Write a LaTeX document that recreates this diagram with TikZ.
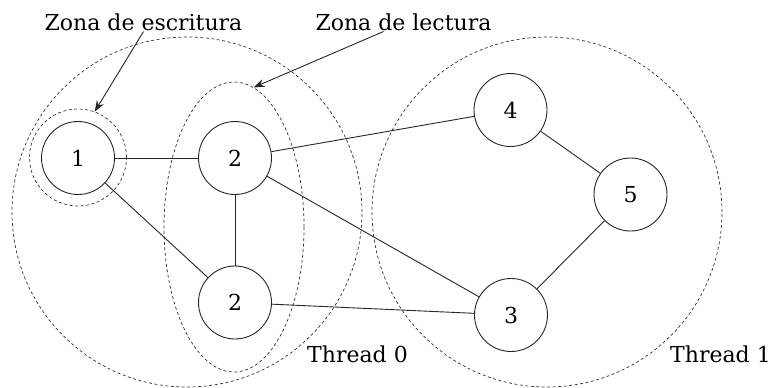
\documentclass[tikz,border=0pt]{standalone}
\usepackage{fontspec}
\setmainfont{DejaVu Serif}
\usetikzlibrary{arrows.meta,shapes.geometric}
\begin{document}
\begin{tikzpicture}[x=1pt,y=-1pt,
  vertex/.style={circle,draw=black!85,line width=0.9pt,minimum size=73pt,inner sep=0pt},
  zone/.style={draw=black!80,dash pattern=on 3pt off 2.5pt,line width=0.7pt,inner sep=0pt},
  caption/.style={inner sep=1pt},
  link/.style={draw=black!85,line width=0.9pt},
  pointer/.style={draw=black!85,line width=0.9pt,-{Stealth[length=11pt,width=8pt]}},
  font=\fontsize{22}{26}\selectfont]
\useasboundingbox (0,0) rectangle (771,388);

% thread partitions
\node[zone,circle,minimum size=350pt] (t0) at (187,212) {};
\node[zone,circle,minimum size=350pt] (t1) at (547,212) {};

% read and write zones
\node[zone,ellipse,minimum width=140pt,minimum height=290pt] (rz) at (234,227) {};
\node[zone,circle,minimum size=97pt] (wz) at (78,157.5) {};

% vertices
\node[vertex] (n1)  at (78,158)     {1};
\node[vertex] (n2a) at (235,158)    {2};
\node[vertex] (n2b) at (235,302.5)  {2};
\node[vertex] (n3)  at (511,315)    {3};
\node[vertex] (n4)  at (510.5,110)  {4};
\node[vertex] (n5)  at (630.5,194.5){5};

% edges
\draw[link] (n1) -- (n2a);
\draw[link] (n1) -- (n2b);
\draw[link] (n2a) -- (n2b);
\draw[link] (n2a) -- (n4);
\draw[link] (n2a) -- (n3);
\draw[link] (n2b) -- (n3);
\draw[link] (n4) -- (n5);
\draw[link] (n5) -- (n3);

% captions
\node[caption,anchor=base] (we) at (143.5,30) {Zona de escritura};
\node[caption,anchor=base] (le) at (403.5,30) {Zona de lectura};
\node[caption,anchor=base west] (th0) at (306,362) {Thread 0};
\node[caption,anchor=base west] (th1) at (669,362) {Thread 1};

% pointers to the zones
\draw[pointer] (we.south) -- (wz.70);
\draw[pointer] ([xshift=-20pt]le.south) -- (rz.82);
\end{tikzpicture}
\end{document}
